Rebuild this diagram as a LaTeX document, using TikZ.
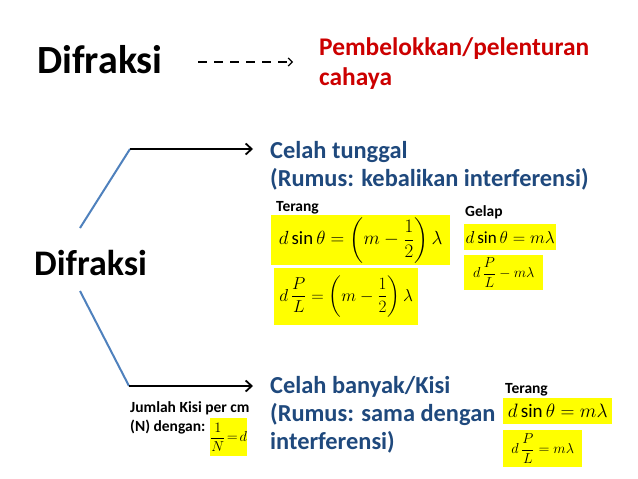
\documentclass[tikz,border=0pt]{standalone}
\usepackage{fontspec}
\setmainfont{Carlito}
\usepackage{amsmath}
\usetikzlibrary{arrows.meta}
\definecolor{redtxt}{RGB}{204,0,0}
\definecolor{bluetxt}{RGB}{31,73,125}
\definecolor{linblue}{RGB}{79,129,189}
\definecolor{hiyellow}{RGB}{255,255,0}
\tikzset{
  lbl/.style={anchor=base west, inner sep=0pt, font=\bfseries},
  bigtitle/.style={lbl, font=\fontsize{40}{48}\selectfont\bfseries},
  redlbl/.style={lbl, text=redtxt, align=left, font=\fontsize{25.4}{30}\selectfont\bfseries},
  bluelbl/.style={lbl, text=bluetxt, align=left, font=\fontsize{24.4}{28}\selectfont\bfseries},
  smalllbl/.style={lbl, font=\fontsize{15.5}{19}\selectfont\bfseries, align=left},
  ybox/.style={fill=hiyellow, anchor=north west, inner sep=0pt},
  bluel/.style={draw=linblue, line width=2pt},
  blackarrow/.style={draw=black, line width=1.8pt, -{Straight Barb[length=6pt,width=11pt,line width=1.8pt]}},
  dasharrow/.style={draw=black, line width=1.2pt, dash pattern=on 9pt off 7pt, -{Straight Barb[length=4pt,width=8pt,line width=1.2pt]}}
}
\begin{document}
\begin{tikzpicture}[x=1pt,y=-1pt]
\useasboundingbox[fill=white] (0,0) rectangle (638,479);

% top row
\node[bigtitle] (dif1) at (37,73) {Difraksi};
\node[redlbl] (pemb) at (319,85) {Pembelokkan/pelenturan\\cahaya};
\coordinate (dA) at (198,62);
\coordinate (dB) at (293,62);
\draw[dasharrow] (dA) -- (dB);

% middle title
\node[bigtitle, font=\fontsize{36}{44}\selectfont\bfseries] (dif2) at (34,275) {Difraksi};

% connectors
\coordinate (u0) at (80,228);
\coordinate (u1) at (130,149);
\coordinate (u2) at (253,149);
\coordinate (l0) at (80,291);
\coordinate (l1) at (129,386);
\coordinate (l2) at (253,386);
\draw[bluel] (u0) -- (u1);
\draw[blackarrow] (u1) -- (u2);
\draw[bluel] (l0) -- (l1);
\draw[blackarrow] (l1) -- (l2);

% celah tunggal
\node[bluelbl] (ct) at (270,186) {Celah tunggal\\(Rumus: kebalikan interferensi)};
\node[smalllbl] (ter1) at (276,211) {Terang};
\node[smalllbl] (gel) at (465,216) {Gelap};

\node[ybox, minimum width=179pt, minimum height=50pt] (f1) at (271,215)
  {\scalebox{1.1}{\fontsize{17}{20}\selectfont$\displaystyle d\sin\theta=\left(m-\frac{1}{2}\right)\lambda$}};
\node[ybox, minimum width=144pt, minimum height=57pt] (f2) at (274,268)
  {\fontsize{17}{20}\selectfont$\displaystyle d\,\frac{P}{L}=\left(m-\frac{1}{2}\right)\lambda$};
\node[ybox, minimum width=92pt, minimum height=26pt] (f3) at (464,224)
  {\fontsize{17}{20}\selectfont$d\sin\theta=m\lambda$};
\node[ybox, minimum width=79pt, minimum height=35pt] (f4) at (464,255)
  {\fontsize{15}{18}\selectfont$\displaystyle d\,\frac{P}{L}-m\lambda$};

% celah banyak
\node[bluelbl] (cb) at (270,449) {Celah banyak/Kisi\\(Rumus: sama dengan\\interferensi)};
\node[smalllbl] (ter2) at (505,393) {Terang};
\node[ybox, minimum width=109pt, minimum height=26pt] (f5) at (503,398)
  {\scalebox{1.12}{\fontsize{17}{20}\selectfont$d\sin\theta=m\lambda$}};
\node[ybox, minimum width=79pt, minimum height=37pt] (f6) at (503,430)
  {\fontsize{15}{18}\selectfont$\displaystyle d\,\frac{P}{L}=m\lambda$};

\node[smalllbl] (jk) at (130,431) {Jumlah Kisi per cm\\(N) dengan:};
\node[ybox, minimum width=36pt, minimum height=38pt] (f7) at (210,418)
  {\fontsize{14}{17}\selectfont$\displaystyle \frac{1}{N}\!=\!d$};
\end{tikzpicture}
\end{document}
